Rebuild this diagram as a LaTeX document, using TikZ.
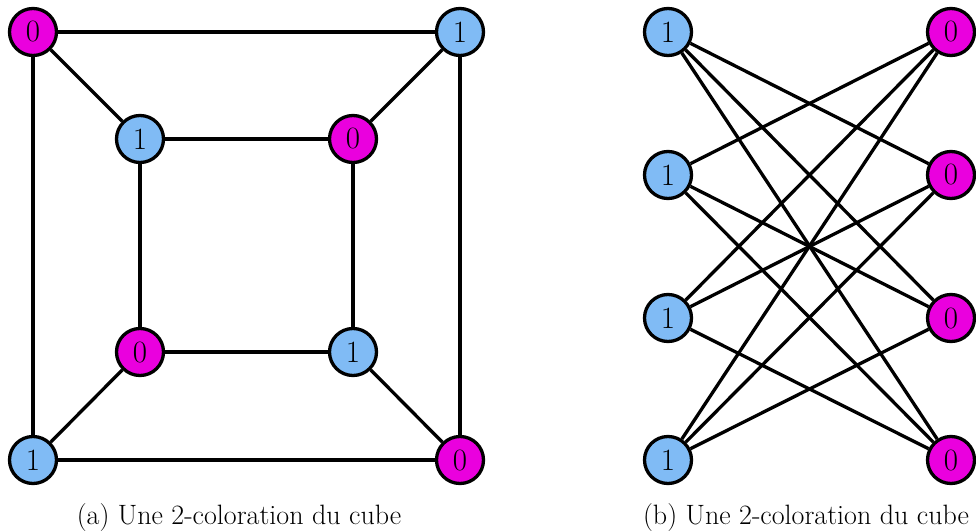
\documentclass[tikz,border=0pt]{standalone}
\definecolor{magc}{RGB}{234,0,222}
\definecolor{bluec}{RGB}{128,187,245}
\begin{document}
\begin{tikzpicture}[x=1pt,y=-1pt,
  vtx/.style={circle,draw=black,line width=3.3pt,minimum size=47pt,inner sep=0pt,font=\fontsize{31}{34}\selectfont},
  zero/.style={vtx,fill=magc},
  one/.style={vtx,fill=bluec},
  edge/.style={line width=3.3pt},
  captxt/.style={font=\fontsize{28}{32}\selectfont,anchor=base}]
\useasboundingbox (0,0) rectangle (976,532);
% cube
\node[zero] (a1) at (33,32) {0};
\node[one] (a2) at (460,32) {1};
\node[one] (a3) at (33,460) {1};
\node[zero] (a4) at (460,460) {0};
\node[one] (b1) at (140,139) {1};
\node[zero] (b2) at (353,139) {0};
\node[zero] (b3) at (140,352) {0};
\node[one] (b4) at (353,352) {1};
\draw[edge] (a1)--(a2) (a2)--(a4) (a4)--(a3) (a3)--(a1);
\draw[edge] (b1)--(b2) (b2)--(b4) (b4)--(b3) (b3)--(b1);
\draw[edge] (a1)--(b1) (a2)--(b2) (a3)--(b3) (a4)--(b4);
% bipartite
\node[one] (l1) at (668,32) {1};
\node[one] (l2) at (668,175) {1};
\node[one] (l3) at (668,318) {1};
\node[one] (l4) at (668,460) {1};
\node[zero] (r1) at (951,32) {0};
\node[zero] (r2) at (951,175) {0};
\node[zero] (r3) at (951,318) {0};
\node[zero] (r4) at (951,460) {0};
\draw[edge] (l1)--(r2) (l1)--(r3) (l1)--(r4);
\draw[edge] (l2)--(r1) (l2)--(r3) (l2)--(r4);
\draw[edge] (l3)--(r1) (l3)--(r2) (l3)--(r4);
\draw[edge] (l4)--(r1) (l4)--(r2) (l4)--(r3);
\node[captxt] (ca) at (239,524) {(a) Une 2-coloration du cube};
\node[captxt] (cb) at (806,524) {(b) Une 2-coloration du cube};
\end{tikzpicture}
\end{document}
